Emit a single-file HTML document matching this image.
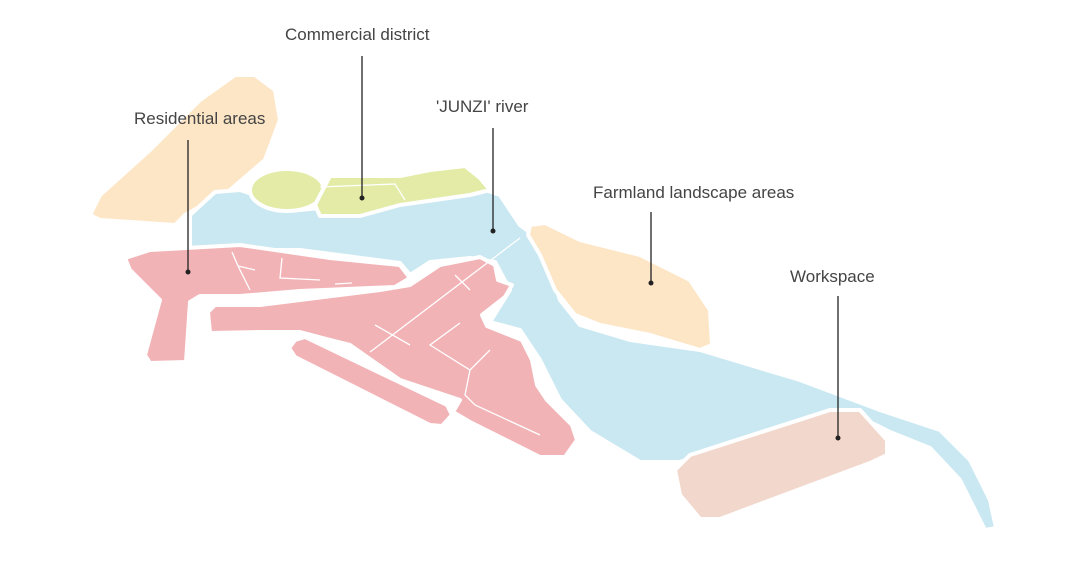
<!DOCTYPE html>
<html><head><style>body{margin:0;background:#fff}svg{display:block}</style></head><body>
<svg width="1080" height="563" viewBox="0 0 1080 563" xmlns="http://www.w3.org/2000/svg" font-family="Liberation Sans, sans-serif">
<g stroke="#fff" stroke-width="4" stroke-linejoin="round">
<path fill="#fde6c6" d="M95,205 L100,195 150,150 200,100 235,75 255,75 275,90 280,120 265,160 230,190 185,215 175,225 100,220 90,215Z"/>
<path fill="#c9e8f2" d="M190,250 L190,215 215,192 240,190 300,210 400,200 480,188 500,195 520,225 540,240 560,300 580,325 630,340 700,350 800,380 880,410 940,430 970,460 990,500 996,528 985,530 960,480 930,448 890,432 850,412 830,410 760,435 680,462 640,462 590,432 560,400 540,360 520,330 490,322 510,290 495,262 470,258 430,262 410,275 400,263 300,250Z"/>
<path fill="#fde6c6" d="M530,225 L545,223 580,240 640,255 690,280 710,310 712,345 700,350 650,335 600,325 575,315 555,290 540,255 528,235Z"/>
<ellipse fill="#e3eba6" cx="287" cy="190" rx="37" ry="21"/>
<path fill="#e3eba6" d="M315,205 L330,176 400,176 430,170 465,166 480,178 490,190 470,195 400,205 360,216 320,216Z"/>
<path fill="#f2b3b6" d="M125,258 L150,250 240,245 330,258 400,265 410,278 395,287 300,291 240,296 200,296 190,302 186,362 150,363 145,355 160,300 150,290 130,270Z"/>
<path fill="#f2b3b6" d="M208,312 L215,305 260,305 300,300 380,290 410,285 440,265 480,257 495,265 498,280 512,285 505,297 482,315 487,326 522,340 532,360 537,385 547,400 572,425 577,440 565,457 540,457 470,422 453,412 460,400 430,390 400,380 350,345 330,340 300,332 260,332 210,333Z"/>
<path fill="#f2b3b6" d="M295,340 L305,337 447,405 452,415 442,426 430,425 295,357 289,348Z"/>
<path fill="#f2d8cc" d="M675,470 L690,455 830,410 860,410 887,440 887,455 870,463 720,519 700,519 680,495Z"/>
</g>
<g stroke="#fff" stroke-width="1.3" fill="none">
<path d="M320,187 L395,184 405,200"/>
<path d="M232,252 L238,266 255,270 M238,266 L250,290 M282,258 L280,278 320,280 M335,284 L352,283"/>
<path d="M370,352 L520,238 M375,325 L410,345 M455,275 L470,290"/>
<path d="M460,323 L430,345 470,370 490,350 M470,370 L465,395 475,405 540,435"/>
</g>
<g fill="#444" font-size="17">
<text x="285" y="40">Commercial district</text>
<text x="134" y="124">Residential areas</text>
<text x="436" y="112">'JUNZI' river</text>
<text x="593" y="198">Farmland landscape areas</text>
<text x="790" y="282">Workspace</text>
</g>
<g stroke="#222" stroke-width="1.3">
<line x1="362" y1="56" x2="362" y2="197"/>
<line x1="188" y1="140" x2="188" y2="271"/>
<line x1="493" y1="128" x2="493" y2="230"/>
<line x1="651" y1="212" x2="651" y2="282"/>
<line x1="838" y1="296" x2="838" y2="437"/>
</g>
<g fill="#222"><circle cx="362" cy="198" r="2.5"/><circle cx="188" cy="272" r="2.5"/><circle cx="493" cy="231" r="2.5"/><circle cx="651" cy="283" r="2.5"/><circle cx="838" cy="438" r="2.5"/></g>
</svg>
</body></html>
